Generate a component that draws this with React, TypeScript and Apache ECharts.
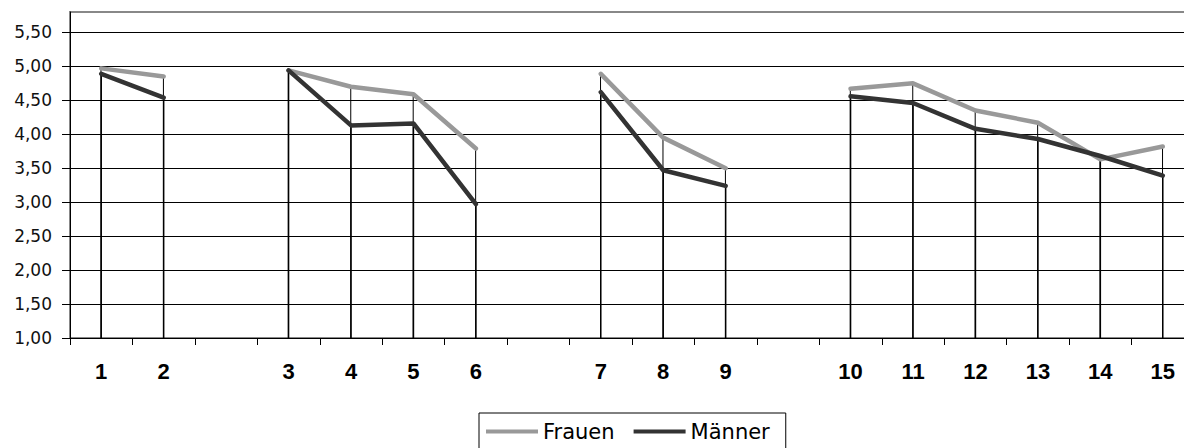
import React, { useEffect, useRef } from "react";
import * as echarts from "echarts";

const categories = ["1", "2", "", "3", "4", "5", "6", "", "7", "8", "9", "", "10", "11", "12", "13", "14", "15"];
const frauen = [4.97, 4.85, null, 4.94, 4.70, 4.59, 3.79, null, 4.89, 3.95, 3.50, null, 4.67, 4.75, 4.35, 4.17, 3.63, 3.82];
const maenner = [4.89, 4.54, null, 4.94, 4.13, 4.16, 2.97, null, 4.62, 3.47, 3.24, null, 4.56, 4.46, 4.08, 3.93, 3.68, 3.39];
const yTicks = [1.0, 1.5, 2.0, 2.5, 3.0, 3.5, 4.0, 4.5, 5.0, 5.5];
const yMin = 1;
const yMax = 5.8;

export default function App() {
  const ref = useRef<HTMLDivElement>(null);
  useEffect(() => {
    if (!ref.current) return;
    const chart = echarts.init(ref.current, undefined, { renderer: "svg" });
    const splitColors = yTicks.map(() => "#000").concat(["#888"]);
    chart.setOption({
      animation: false,
      backgroundColor: "#fff",
      grid: {
        left: 70,
        top: 12,
        width: 1124,
        height: 326,
        show: true,
        borderColor: "#888",
        borderWidth: 2,
      },
      legend: {
        data: ["Frauen", "Männer"],
        left: 479,
        top: 413,
        padding: [8, 16, 8, 7],
        borderColor: "#000",
        borderWidth: 1,
        itemGap: 19,
        itemWidth: 52,
        itemHeight: 4,
        icon: "rect",
        textStyle: { fontFamily: "DejaVu Sans", fontSize: 21, color: "#000" },
      },
      xAxis: {
        type: "category",
        data: categories,
        boundaryGap: true,
        axisLine: { lineStyle: { color: "#000", width: 1 } },
        axisTick: { show: true, length: 7, lineStyle: { color: "#000" } },
        axisLabel: {
          interval: 0,
          margin: 22,
          color: "#000",
          fontFamily: "Liberation Sans",
          fontWeight: "bold",
          fontSize: 22,
        },
        splitLine: { show: false },
      },
      yAxis: {
        type: "value",
        min: yMin,
        max: yMax,
        interval: 0.5,
        axisLine: { show: true, lineStyle: { color: "#000", width: 1 } },
        axisTick: { show: true, length: 8, lineStyle: { color: "#000" }, customValues: yTicks },
        axisLabel: {
          margin: 18,
          color: "#111",
          fontFamily: "DejaVu Sans",
          fontSize: 17,
          customValues: yTicks,
          formatter: (v: number) => v.toFixed(2).replace(".", ","),
        },
        splitLine: { show: true, lineStyle: { color: splitColors, width: 1 } },
      },
      series: [
        {
          name: "dropF",
          type: "bar",
          data: frauen,
          barWidth: 1,
          barGap: "-100%",
          itemStyle: { color: "#000" },
          silent: true,
        },
        {
          name: "dropM",
          type: "bar",
          data: maenner,
          barWidth: 1.5,
          barGap: "-100%",
          itemStyle: { color: "#000" },
          silent: true,
        },
        {
          name: "Frauen",
          type: "line",
          data: frauen,
          connectNulls: false,
          showSymbol: false,
          symbol: "none",
          color: "#999",
          lineStyle: { color: "#999", width: 4.5, cap: "round", join: "round" },
        },
        {
          name: "Männer",
          type: "line",
          data: maenner,
          connectNulls: false,
          showSymbol: false,
          symbol: "none",
          color: "#333",
          lineStyle: { color: "#333", width: 4.5, cap: "round", join: "round" },
        },
      ],
    });
    return () => chart.dispose();
  }, []);
  return (
    <div
      style={{
        position: "fixed",
        left: 0,
        top: 0,
        width: 1184,
        height: 448,
        overflow: "hidden",
        background: "#fff",
      }}
    >
      <div ref={ref} style={{ width: 1230, height: 470 }} />
    </div>
  );
}
